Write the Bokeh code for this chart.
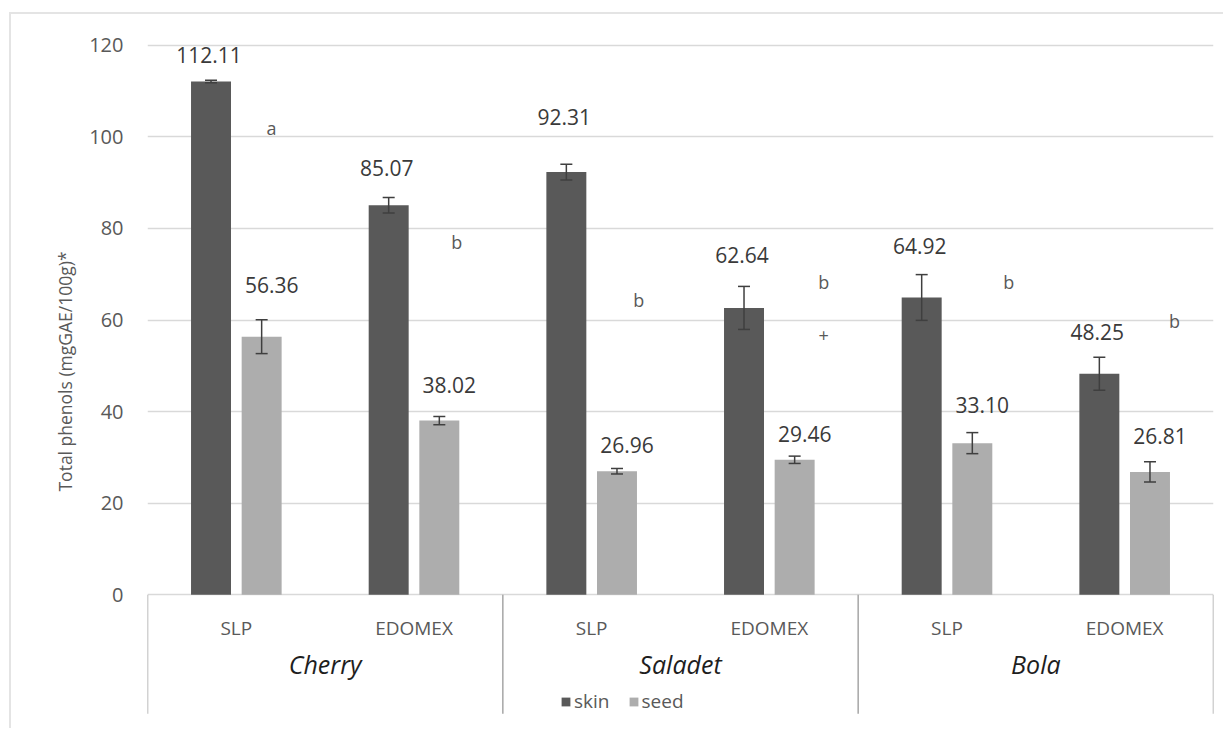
from bokeh.plotting import figure
from bokeh.models import (Range1d, FixedTicker, Whisker, ColumnDataSource, Title,
                          Legend, LegendItem, TeeHead)
from bokeh.core.properties import value
from bokeh.embed import file_html
from bokeh.resources import INLINE

# ---------------- data ----------------
varieties = ["Cherry", "Saladet", "Bola"]
origins = ["SLP", "EDOMEX"]
skin = [112.11, 85.07, 92.31, 62.64, 64.92, 48.25]
seed = [56.36, 38.02, 26.96, 29.46, 33.10, 26.81]
skin_err = [0.3, 1.7, 1.7, 4.7, 5.0, 3.6]
seed_err = [3.7, 0.9, 0.6, 0.8, 2.3, 2.2]
y_ticks = [0, 20, 40, 60, 80, 100, 120]
# value-label heights (data units)
skin_label_y = [117.9, 93.2, 104.4, 74.1, 76.2, 57.4]
seed_label_y = [67.7, 45.8, 32.6, 35.1, 41.4, 34.6]
# significance letters
letters = ["a", "b", "b", "b", "+", "b", "b"]
letter_x = [0.698, 1.74, 2.765, 3.806, 3.806, 4.848, 5.78]
letter_y = [102.0, 77.0, 64.3, 68.4, 56.6, 68.4, 59.7]

FONT = "Open Sans"
SKIN_C = "#595959"
SEED_C = "#adadad"
TXT_C = "#595959"
VAL_C = "#3a3a3a"

n_groups = len(varieties) * len(origins)
centers = [i + 0.5 for i in range(n_groups)]
off = 0.1425
bw = 0.225
x_skin = [c - off for c in centers]
x_seed = [c + off for c in centers]

src = ColumnDataSource(dict(
    x_skin=x_skin, x_seed=x_seed, skin=skin, seed=seed,
    skin_hi=[v + e for v, e in zip(skin, skin_err)],
    skin_lo=[v - e for v, e in zip(skin, skin_err)],
    seed_hi=[v + e for v, e in zip(seed, seed_err)],
    seed_lo=[v - e for v, e in zip(seed, seed_err)],
    skin_lab=[f"{v:.2f}" for v in skin], seed_lab=[f"{v:.2f}" for v in seed],
    skin_ly=skin_label_y, seed_ly=seed_label_y,
))

p = figure(width=1223, height=728, x_range=Range1d(0, n_groups), y_range=Range1d(-27.5, 125),
           output_backend="svg", toolbar_location=None,
           min_border_left=147, min_border_right=10, min_border_top=22, min_border_bottom=8)
p.border_fill_color = None
p.styles = {
    "background": ("linear-gradient(#e4e4e4, #e4e4e4) 9px 12px / 2px 100% no-repeat, "
                   "linear-gradient(#e4e4e4, #e4e4e4) 9px 12px / 100% 2px no-repeat, white"),
}
p.outline_line_color = None
p.xaxis.visible = False
p.xgrid.visible = False
p.ygrid.grid_line_color = "#d9d9d9"
p.ygrid.grid_line_width = 1.5
p.yaxis.ticker = FixedTicker(ticks=y_ticks)
p.yaxis.axis_line_color = None
p.yaxis.major_tick_line_color = None
p.yaxis.minor_tick_line_color = None
p.yaxis.major_label_standoff = 18
p.yaxis.major_label_text_font = FONT
p.yaxis.major_label_text_font_size = "20px"
p.yaxis.major_label_text_color = TXT_C

r_skin = p.vbar(x="x_skin", top="skin", bottom=0, width=bw, source=src,
                fill_color=SKIN_C, line_color=None)
r_seed = p.vbar(x="x_seed", top="seed", bottom=0, width=bw, source=src,
                fill_color=SEED_C, line_color=None)

for base, up, lo in (("x_skin", "skin_hi", "skin_lo"), ("x_seed", "seed_hi", "seed_lo")):
    w = Whisker(source=src, base=base, upper=up, lower=lo, level="overlay",
                line_color="#3f3f3f", line_width=1.5,
                upper_head=TeeHead(size=12, line_color="#3f3f3f", line_width=1.5),
                lower_head=TeeHead(size=12, line_color="#3f3f3f", line_width=1.5))
    p.add_layout(w)

p.text(x="x_skin", y="skin_ly", text="skin_lab", source=src, text_align="center",
       text_baseline="middle", text_font=value(FONT), text_font_size="21px",
       text_color=VAL_C, x_offset=-2)
p.text(x="x_seed", y="seed_ly", text="seed_lab", source=src, text_align="center",
       text_baseline="middle", text_font=value(FONT), text_font_size="21px",
       text_color=VAL_C, x_offset=10)

p.text(x=letter_x, y=letter_y, text=letters, text_align="center", text_baseline="middle",
       text_font=value(FONT), text_font_size="18px", text_color=TXT_C)

# category separators below the axis
bounds = [i * len(origins) for i in range(len(varieties) + 1)]
p.segment(x0=bounds, y0=[0] * len(bounds), x1=bounds, y1=[-26] * len(bounds),
          line_color="#a6a6a6", line_width=1.5)

# category labels
p.text(x=centers, y=[-7.2] * n_groups, text=origins * len(varieties), text_align="center",
       text_baseline="middle", text_font=value(FONT), text_font_size="19px", text_color=TXT_C)
var_x = [(b0 + b1) / 2 for b0, b1 in zip(bounds[:-1], bounds[1:])]
p.text(x=var_x, y=[-15.1] * len(varieties), text=varieties, text_align="center",
       text_baseline="middle", text_font=value(FONT), text_font_size="25px",
       text_font_style="italic", text_color="#1e1e1e")

p.add_layout(Title(text="Total phenols (mgGAE/100g)*", align="center", offset=58,
                   text_font=FONT, text_font_size="17.5px", text_font_style="normal",
                   text_color=TXT_C, standoff=19), "left")

legend = Legend(items=[LegendItem(label="skin", renderers=[r_skin]),
                       LegendItem(label="seed", renderers=[r_seed])],
                orientation="horizontal", location=(413, 6), glyph_width=11, glyph_height=11,
                label_standoff=3, spacing=18, padding=0, margin=0,
                border_line_color=None, background_fill_alpha=0,
                label_text_font=FONT, label_text_font_size="19px", label_text_color=TXT_C)
p.add_layout(legend)

open("out.html", "w").write(file_html(p, INLINE))
